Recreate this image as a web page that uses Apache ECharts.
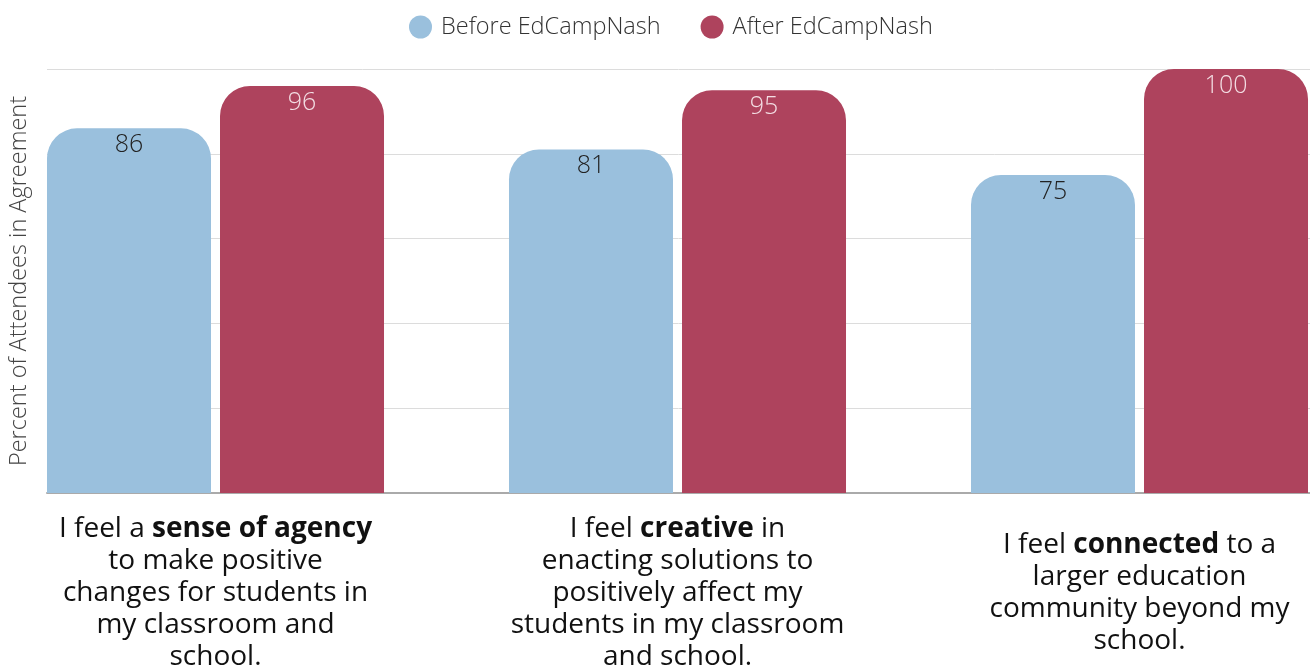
<!DOCTYPE html>
<html>
<head>
<meta charset="utf-8">
<script src="https://cdn.jsdelivr.net/npm/echarts@6/dist/echarts.min.js"></script>
<style>html,body{margin:0;padding:0;background:#fff}#c{width:1310px;height:669px}</style>
</head>
<body>
<div id="c"></div>
<script>
const categories = [
  "I feel a {b|sense of agency}\nto make positive\nchanges for students in\nmy classroom and\nschool.",
  "I feel {b|creative} in\nenacting solutions to\npositively affect my\nstudents in my classroom\nand school.",
  "I feel {b|connected} to a\nlarger education\ncommunity beyond my\nschool."
];
const beforeValues = [86, 81, 75];
const afterValues = [96, 95, 100];
const seriesNames = ["Before EdCampNash", "After EdCampNash"];
const yTicks = [0, 20, 40, 60, 80, 100];

const chart = echarts.init(document.getElementById('c'));
const font = '"Open Sans", sans-serif';
chart.setOption({
  animation: false,
  legend: {
    top: 10, left: 404,
    icon: 'circle', itemWidth: 23, itemHeight: 23, itemGap: 40,
    textStyle: { fontFamily: font, fontSize: 23.5, fontWeight: 300, color: '#333', padding: [0, 0, 0, 4] },
    data: seriesNames
  },
  grid: [
    { left: 47, right: 0, top: 69, bottom: 176, outerBoundsMode: 'none', containLabel: false },
    { left: -15.5, width: 1386, top: 69, bottom: 176, outerBoundsMode: 'none', containLabel: false }
  ],
  xAxis: [
    { gridIndex: 0, type: 'category', data: [''], axisLine: { lineStyle: { color: '#aaa', width: 2 } },
      axisTick: { show: false }, axisLabel: { show: false } },
    { gridIndex: 1, type: 'category', data: categories, axisLine: { show: false }, axisTick: { show: false },
      axisLabel: {
        interval: 0, margin: 100, verticalAlign: 'middle', align: 'center',
        fontFamily: font, fontSize: 28, lineHeight: 32, color: '#111',
        rich: { b: { fontFamily: font, fontSize: 28, lineHeight: 32, fontWeight: 'bold', color: '#111' } }
      } }
  ],
  yAxis: [
    { gridIndex: 0, type: 'value', min: yTicks[0], max: yTicks[yTicks.length - 1], interval: 20,
      axisLabel: { show: false }, axisLine: { show: false }, axisTick: { show: false },
      splitLine: { lineStyle: { color: '#dcdcdc', width: 1 } },
      name: 'Percent of Attendees in Agreement', nameLocation: 'middle', nameGap: 16,
      nameTextStyle: { fontFamily: font, fontSize: 23.5, fontWeight: 300, color: '#444' } },
    { gridIndex: 1, type: 'value', min: 0, max: 100, show: false, splitLine: { show: false } }
  ],
  series: [
    { name: seriesNames[0], type: 'bar', xAxisIndex: 1, yAxisIndex: 1, data: beforeValues,
      barWidth: 164, barGap: '5.5%',
      itemStyle: { color: '#9ac0dd', borderRadius: [30, 30, 0, 0] },
      label: { show: true, position: 'insideTop', distance: 4, fontFamily: font, fontSize: 25, fontWeight: 300, color: '#222' } },
    { name: seriesNames[1], type: 'bar', xAxisIndex: 1, yAxisIndex: 1, data: afterValues,
      barWidth: 164,
      itemStyle: { color: '#ae435d', borderRadius: [30, 30, 0, 0] },
      label: { show: true, position: 'insideTop', distance: 4, fontFamily: font, fontSize: 25, fontWeight: 300, color: '#f3dde3' } }
  ]
});
</script>
</body>
</html>
